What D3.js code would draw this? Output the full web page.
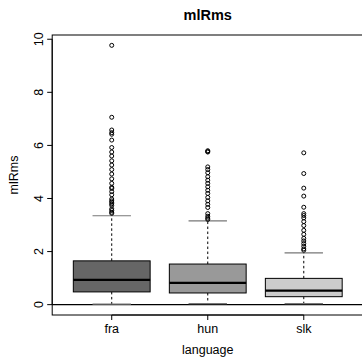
<!DOCTYPE html>
<html>
<head>
<meta charset="utf-8">
<script src="https://cdn.jsdelivr.net/npm/d3@7"></script>
<style>
html,body{margin:0;padding:0;background:#fff;}
svg{display:block;}
text{font-family:"Liberation Sans",Arial,Helvetica,sans-serif;fill:#000;}
</style>
</head>
<body>
<svg id="chart" width="362" height="358"></svg>
<script>
const categories = ["fra", "hun", "slk"];
const boxColors = ["#666666", "#999999", "#cccccc"];
const lowerWhisker = [0.02, 0.04, 0.04];
const q1 = [0.48, 0.44, 0.30];
const medians = [0.93, 0.82, 0.53];
const q3 = [1.65, 1.53, 0.99];
const upperWhisker = [3.35, 3.16, 1.95];
const outliersFra = [9.77, 7.06, 6.58, 6.48, 6.42, 6.20, 5.92, 5.75, 5.60, 5.42, 5.26, 5.09, 4.92, 4.74, 4.57, 4.42, 4.38, 4.26, 4.14, 3.98, 3.91, 3.86, 3.80, 3.74, 3.61, 3.55, 3.48, 3.44];
const outliersHun = [5.80, 5.77, 5.75, 5.19, 5.09, 4.97, 4.82, 4.69, 4.57, 4.44, 4.31, 4.19, 4.04, 3.91, 3.78, 3.66, 3.43, 3.33, 3.26, 3.21];
const outliersSlk = [5.72, 4.94, 4.39, 4.09, 3.67, 3.43, 3.36, 3.27, 3.13, 2.98, 2.80, 2.65, 2.50, 2.40, 2.30, 2.20, 2.10, 2.05];
const outliers = [outliersFra, outliersHun, outliersSlk];
const yTicks = [0, 2, 4, 6, 8, 10];
const title = "mlRms";
const xTitle = "language";
const yTitle = "mlRms";

(function () {
const svg = d3.select("#chart");
const pL = 52.2, pR = 363.3, pT = 35, pB = 315;

const x = d3.scaleLinear().domain([0.38, 3.62]).range([pL, pR]);
const y = d3.scaleLinear().domain([-0.39, 10.16]).range([pB, pT]);
const spacing = x(2) - x(1);
const boxW = spacing * 0.8;
const capW = boxW * 0.5;

svg.append("rect").attr("x", pL).attr("y", pT).attr("width", pR - pL).attr("height", pB - pT)
  .attr("fill", "none").attr("stroke", "#000").attr("stroke-width", 1);

svg.append("line").attr("x1", pL).attr("x2", pR).attr("y1", y(0)).attr("y2", y(0))
  .attr("stroke", "#000").attr("stroke-width", 1.2);

categories.forEach((c, i) => {
  const cx = x(i + 1);
  const g = svg.append("g");
  g.append("line").attr("x1", cx).attr("x2", cx).attr("y1", y(q3[i])).attr("y2", y(upperWhisker[i]))
    .attr("stroke", "#000").attr("stroke-dasharray", "2.5,2.5");
  g.append("line").attr("x1", cx).attr("x2", cx).attr("y1", y(q1[i])).attr("y2", y(lowerWhisker[i]))
    .attr("stroke", "#000").attr("stroke-dasharray", "2.5,2.5");
  [upperWhisker[i], lowerWhisker[i]].forEach(v => {
    g.append("line").attr("x1", cx - capW / 2).attr("x2", cx + capW / 2).attr("y1", y(v)).attr("y2", y(v))
      .attr("stroke", "#777").attr("stroke-width", 1.2);
  });
  g.append("rect").attr("x", cx - boxW / 2).attr("y", y(q3[i])).attr("width", boxW)
    .attr("height", y(q1[i]) - y(q3[i])).attr("fill", boxColors[i]).attr("stroke", "#000").attr("stroke-width", 1);
  g.append("line").attr("x1", cx - boxW / 2).attr("x2", cx + boxW / 2).attr("y1", y(medians[i])).attr("y2", y(medians[i]))
    .attr("stroke", "#000").attr("stroke-width", 2.2);
  g.selectAll("circle").data(outliers[i]).enter().append("circle")
    .attr("cx", cx).attr("cy", d => y(d)).attr("r", 2)
    .attr("fill", "none").attr("stroke", "#000").attr("stroke-width", 1);
});

const yAxisG = svg.append("g");
yAxisG.append("line").attr("x1", pL).attr("x2", pL).attr("y1", y(0)).attr("y2", y(10)).attr("stroke", "#000");
yTicks.forEach(t => {
  yAxisG.append("line").attr("x1", pL - 5).attr("x2", pL).attr("y1", y(t)).attr("y2", y(t)).attr("stroke", "#000");
  yAxisG.append("text").attr("transform", `translate(${38.5},${y(t)}) rotate(-90)`)
    .attr("text-anchor", "middle").attr("dominant-baseline", "central")
    .style("font-size", "12.5px").text(t);
});

categories.forEach((c, i) => {
  const cx = x(i + 1);
  svg.append("line").attr("x1", cx).attr("x2", cx).attr("y1", pB).attr("y2", pB + 5).attr("stroke", "#000");
  svg.append("text").attr("x", cx).attr("y", 329).attr("text-anchor", "middle").attr("dominant-baseline", "central")
    .style("font-size", "12.5px").text(c);
});
svg.append("line").attr("x1", x(1)).attr("x2", x(3)).attr("y1", pB).attr("y2", pB).attr("stroke", "#000");

svg.append("text").attr("x", (pL + pR) / 2).attr("y", 15).attr("text-anchor", "middle")
  .attr("dominant-baseline", "central").style("font-size", "14.5px").style("font-weight", "bold").text(title);
svg.append("text").attr("x", (pL + pR) / 2).attr("y", 350).attr("text-anchor", "middle")
  .attr("dominant-baseline", "central").style("font-size", "12.5px").text(xTitle);
svg.append("text").attr("transform", `translate(13.5,${(pT + pB) / 2}) rotate(-90)`).attr("text-anchor", "middle")
  .attr("dominant-baseline", "central").style("font-size", "12.5px").text(yTitle);
})();
</script>
</body>
</html>
